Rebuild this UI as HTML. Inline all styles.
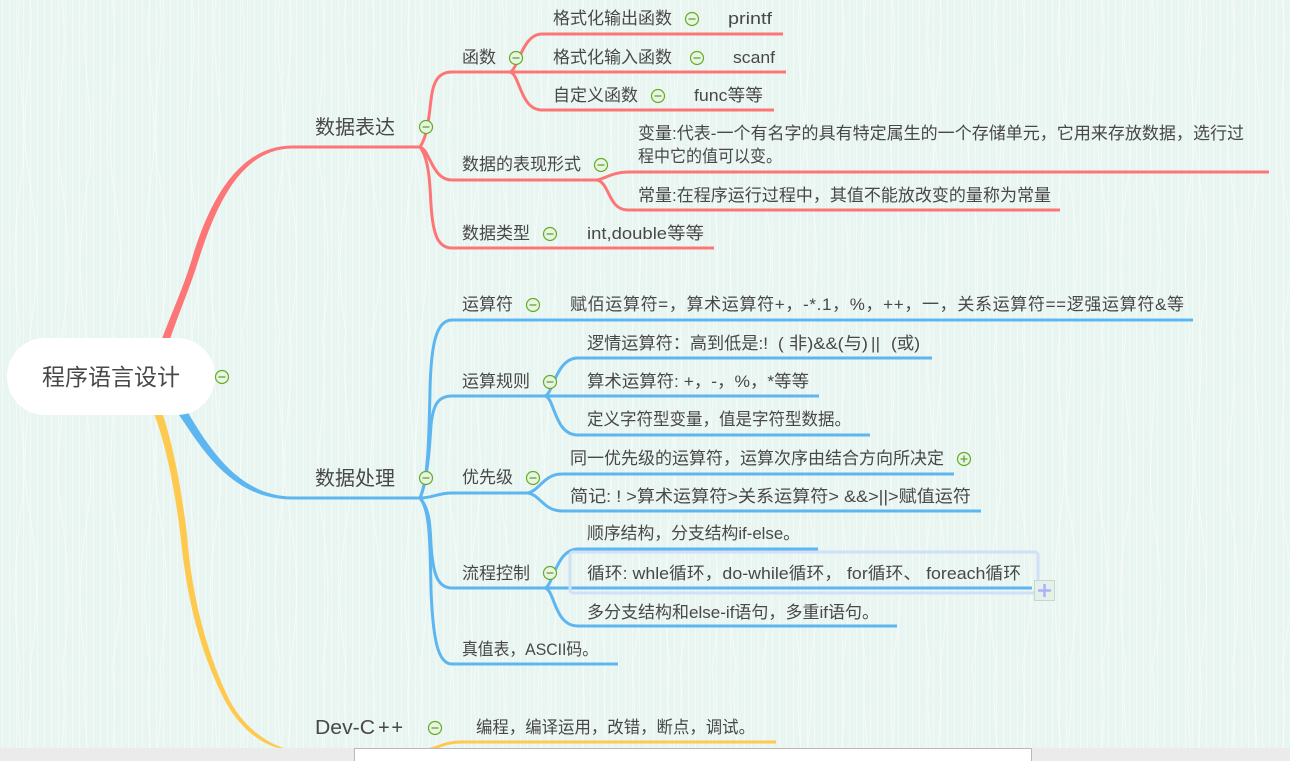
<!DOCTYPE html>
<html lang="zh">
<head>
<meta charset="utf-8">
<title>程序语言设计</title>
<style>
html,body{margin:0;padding:0;width:1290px;height:761px;overflow:hidden;background:#e9f5f1}
svg{position:absolute;left:0;top:0;display:block}
text{font-family:"Liberation Sans","Noto Sans CJK SC",sans-serif;fill:#484848;font-size:17px}
.big{font-size:20px}
.root{font-size:23px}
.c{fill:none;stroke-width:3;stroke-linecap:butt}
.r{stroke:#fd7677}
.b{stroke:#5eb6f1}
.y{stroke:#fec94f}
.ic circle{fill:#e8f5e0;stroke:#64ac26;stroke-width:1.2}
.ic path{stroke:#4f8f2a;stroke-width:1.1;fill:none}
</style>
</head>
<body>
<svg width="1290" height="761" viewBox="0 0 1290 761" xmlns="http://www.w3.org/2000/svg">
<defs>
<pattern id="st" width="7" height="20" patternUnits="userSpaceOnUse">
<rect x="2" width="1" height="20" fill="#ffffff" opacity=".4"/>
</pattern>
<pattern id="wv" width="130" height="333" patternUnits="userSpaceOnUse">
<g fill="none" stroke="#ffffff" stroke-width="1" opacity=".5">
<path d="M20 0C12 60 30 110 22 170S12 270 20 333"/>
<path d="M30 0C36 60 18 110 28 170S40 270 30 333"/>
<path d="M62 0C70 70 52 120 60 170S72 280 62 333"/>
<path d="M86 0C78 50 98 120 88 180S78 280 86 333"/>
<path d="M112 0C120 60 104 130 114 190S122 280 112 333"/>
</g>
</pattern>
</defs>
<rect width="1290" height="748" fill="#e9f5f1"/>
<rect width="1290" height="748" fill="url(#st)"/>
<rect width="1290" height="748" fill="url(#wv)"/>

<!-- red -->
<path d="M161.500 340C172 312 183 288 191 262C205 215 232 146 292 145.500L292 148.500C236 149 212 217 196 268C187 295 178 315 169 342Z" fill="#fd7677"/>
<g class="c r">
<path d="M292 147H420"/>
<path d="M420 147C428 135 429 115 431 100C433 82 438 72 452 72H510"/>
<path d="M510 72C518 70 522 34 542 34H783"/>
<path d="M510 72H786"/>
<path d="M510 72C520 74 520 110 542 110H774"/>
<path d="M420 147C430 150 432 180 452 180H597"/>
<path d="M597 180C607 178 612 172 630 172H1269"/>
<path d="M597 180C610 183 608 210 628 210H1060"/>
<path d="M420 147C430 160 430 190 431 205C433 235 438 248 452 248H714"/>
</g>
<!-- blue -->
<path d="M179 415C200 445 230 499.500 292 499.500L292 496.500C240 496 210 450 187 411Z" fill="#5eb6f1"/>
<g class="c b">
<path d="M292 498H420"/>
<path d="M420 498C428 480 429 440 430 390C431 345 436 320 452 320H1193"/>
<path d="M420 498C428 480 430 440 431 425C433 405 438 396 452 396H545"/>
<path d="M545 396C553 394 556 358 578 358H932"/>
<path d="M545 396H819"/>
<path d="M545 396C555 398 554 435 578 435H870"/>
<path d="M420 498C432 498 438 493 452 493H528"/>
<path d="M528 493C540 490 544 474 562 474H954"/>
<path d="M528 493C540 495 544 511 562 511H981"/>
<path d="M420 498C430 510 430 525 431 545C433 575 438 588 452 588H545"/>
<path d="M545 588C553 586 556 549 578 549H818"/>
<path d="M545 588H1032"/>
<path d="M545 588C555 590 554 626 578 626H897"/>
<path d="M420 498C430 510 430 540 431 590C433 640 438 664 452 664H618"/>
</g>
<!-- yellow -->
<path d="M154.500 415C166 445 175 490 181 540C187 600 200 650 222 695C236 724 258 744 282 749L287 749C262 742 240 722 228 697C208 655 192 600 187 535C181 485 173 445 162 412Z" fill="#fec94f"/>
<path class="c y" d="M430 749C438 748 445 742 460 742H776"/>

<!-- selection -->
<rect x="570" y="552" width="468" height="41" rx="3" fill="none" stroke="#cfe0f7" stroke-width="3"/>
<path class="c b" d="M572 588H1032"/>
<rect x="1034.500" y="580.500" width="20" height="20" fill="#e5f0ea" stroke="#c4d9c6"/>
<path d="M1038 590.500H1051M1044.500 584V597" stroke="#a9b3f6" stroke-width="2.500" fill="none"/>

<!-- root -->
<rect x="7" y="338" width="208" height="77" rx="38" fill="#fff"/>
<text class="root" x="42" y="385" textLength="138" lengthAdjust="spacingAndGlyphs">程序语言设计</text>

<!-- labels -->
<text class="big" x="315" y="134" textLength="80" lengthAdjust="spacingAndGlyphs">数据表达</text>
<text class="big" x="315" y="485" textLength="80" lengthAdjust="spacingAndGlyphs">数据处理</text>
<text class="big" x="315" y="734" textLength="60" lengthAdjust="spacingAndGlyphs">Dev-C</text>
<text class="big" x="378" y="734" textLength="25" lengthAdjust="spacing">++</text>

<text x="462" y="63" textLength="34" lengthAdjust="spacingAndGlyphs">函数</text>
<text x="553" y="24" textLength="119" lengthAdjust="spacingAndGlyphs">格式化输出函数</text>
<text x="728" y="24" textLength="44" lengthAdjust="spacingAndGlyphs">printf</text>
<text x="553" y="63" textLength="119" lengthAdjust="spacingAndGlyphs">格式化输入函数</text>
<text x="733" y="63" textLength="42" lengthAdjust="spacingAndGlyphs">scanf</text>
<text x="553" y="101" textLength="85" lengthAdjust="spacingAndGlyphs">自定义函数</text>
<text x="694" y="101" textLength="69" lengthAdjust="spacingAndGlyphs">func等等</text>
<text x="638" y="139" textLength="606" lengthAdjust="spacingAndGlyphs">变量:代表-一个有名字的具有特定属生的一个存储单元，它用来存放数据，选行过</text>
<text x="638" y="162" textLength="144" lengthAdjust="spacingAndGlyphs">程中它的值可以变。</text>
<text x="638" y="201" textLength="413" lengthAdjust="spacingAndGlyphs">常量:在程序运行过程中，其值不能放改变的量称为常量</text>
<text x="462" y="170" textLength="119" lengthAdjust="spacingAndGlyphs">数据的表现形式</text>
<text x="462" y="239" textLength="68" lengthAdjust="spacingAndGlyphs">数据类型</text>
<text x="587" y="239" textLength="117" lengthAdjust="spacingAndGlyphs">int,double等等</text>

<text x="462" y="310" textLength="51" lengthAdjust="spacingAndGlyphs">运算符</text>
<text x="570" y="310" textLength="614" lengthAdjust="spacing">赋佰运算符=，算术运算符+，-*.1，%，++，一，关系运算符==逻强运算符&amp;等</text>
<text x="587" y="349" textLength="181" lengthAdjust="spacingAndGlyphs">逻情运算符：高到低是:!</text>
<text x="778" y="349">(</text>
<text x="789" y="349" textLength="79" lengthAdjust="spacingAndGlyphs">非)&amp;&amp;(与)</text>
<text x="871" y="349" textLength="9" lengthAdjust="spacing">||</text>
<text x="891" y="349" textLength="29" lengthAdjust="spacingAndGlyphs">(或)</text>
<text x="462" y="387" textLength="68" lengthAdjust="spacingAndGlyphs">运算规则</text>
<text x="587" y="387" textLength="222" lengthAdjust="spacingAndGlyphs">算术运算符: +，-，%，*等等</text>
<text x="587" y="425" textLength="264" lengthAdjust="spacingAndGlyphs">定义字符型变量，值是字符型数据。</text>
<text x="570" y="464" textLength="374" lengthAdjust="spacingAndGlyphs">同一优先级的运算符，运算次序由结合方向所决定</text>
<text x="570" y="502" textLength="401" lengthAdjust="spacingAndGlyphs">简记: ! &gt;算术运算符&gt;关系运算符&gt; &amp;&amp;&gt;||&gt;赋值运符</text>
<text x="462" y="483" textLength="51" lengthAdjust="spacingAndGlyphs">优先级</text>
<text x="587" y="539" textLength="213" lengthAdjust="spacingAndGlyphs">顺序结构，分支结构if-else。</text>
<text x="587" y="579" textLength="434" lengthAdjust="spacingAndGlyphs">循环: whle循环，do-while循环， for循环、 foreach循环</text>
<text x="462" y="579" textLength="68" lengthAdjust="spacingAndGlyphs">流程控制</text>
<text x="587" y="618" textLength="292" lengthAdjust="spacingAndGlyphs">多分支结构和else-if语句，多重if语句。</text>
<text x="462" y="655" textLength="136" lengthAdjust="spacingAndGlyphs">真值表，ASCII码。</text>
<text x="476" y="733" textLength="279" lengthAdjust="spacingAndGlyphs">编程，编译运用，改错，断点，调试。</text>

<!-- collapse icons -->
<g class="ic">
<g transform="translate(222,377)"><circle r="6.500"/><path d="M-3.500 0H3.500"/></g>
<g transform="translate(426,127)"><circle r="6.500"/><path d="M-3.500 0H3.500"/></g>
<g transform="translate(426,478)"><circle r="6.500"/><path d="M-3.500 0H3.500"/></g>
<g transform="translate(435,728)"><circle r="6.500"/><path d="M-3.500 0H3.500"/></g>
<g transform="translate(516,58)"><circle r="6.500"/><path d="M-3.500 0H3.500"/></g>
<g transform="translate(692,19)"><circle r="6.500"/><path d="M-3.500 0H3.500"/></g>
<g transform="translate(697,58)"><circle r="6.500"/><path d="M-3.500 0H3.500"/></g>
<g transform="translate(658,96)"><circle r="6.500"/><path d="M-3.500 0H3.500"/></g>
<g transform="translate(601,165)"><circle r="6.500"/><path d="M-3.500 0H3.500"/></g>
<g transform="translate(550,234)"><circle r="6.500"/><path d="M-3.500 0H3.500"/></g>
<g transform="translate(533,305)"><circle r="6.500"/><path d="M-3.500 0H3.500"/></g>
<g transform="translate(550,382)"><circle r="6.500"/><path d="M-3.500 0H3.500"/></g>
<g transform="translate(533,478)"><circle r="6.500"/><path d="M-3.500 0H3.500"/></g>
<g transform="translate(550,573)"><circle r="6.500"/><path d="M-3.500 0H3.500"/></g>
<g transform="translate(964,459)"><circle r="6.500"/><path d="M-3.500 0H3.500M0 -3.500V3.500"/></g>
</g>

<!-- bottom bar -->
<rect x="0" y="748" width="1290" height="13" fill="#ebebeb"/>
<rect x="354.500" y="748.500" width="677" height="14" fill="#fff" stroke="#b9b9b9"/>
</svg>
</body>
</html>
